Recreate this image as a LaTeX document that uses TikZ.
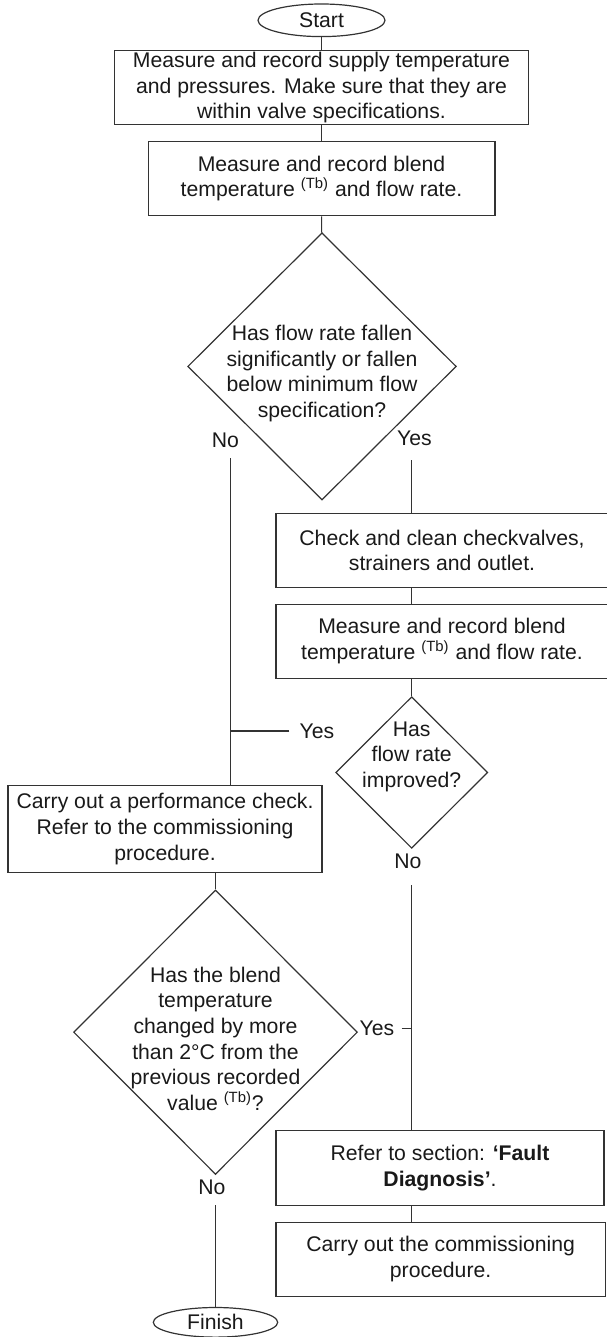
\documentclass[tikz,border=0pt]{standalone}
\usepackage{fontspec}
\setmainfont{Liberation Sans}
\usetikzlibrary{shapes.geometric}

\begin{document}
\begin{tikzpicture}[x=0.5pt,y=-0.5pt,
    every node/.style={font=\fontsize{10.6pt}{12.8pt}\selectfont,text=black!90},
    procbox/.style={draw=black!80,line width=0.6pt,rectangle,align=center,inner sep=0pt,minimum height=37.2pt},
    decision/.style={draw=black!80,line width=0.6pt,diamond,inner sep=0pt},
    qtext/.style={align=center,inner sep=0pt},
    terminal/.style={draw=black!80,line width=0.6pt,ellipse,inner sep=0pt,minimum width=63.5pt,minimum height=16.3pt},
    answer/.style={inner sep=0pt},
    flowline/.style={draw=black!80,line width=0.6pt}]
    \useasboundingbox (0,0) rectangle (606,1337);

    %%% Main column %%%
    \node[terminal] (start) at (321.5,20.3) {Start};
    \node[procbox,minimum width=207pt,minimum height=37pt] (supply) at (321.5,87.7)
        {Measure and record supply temperature\\ and pressures. Make sure that they are\\ within valve specifications.};
    \node[procbox,minimum width=173.4pt] (blend) at (321.5,178.5)
        {Measure and record blend\\ temperature \textsuperscript{(Tb)} and flow rate.};
    \node[decision,minimum width=134.3pt,minimum height=133.6pt] (flowq) at (322,366.4) {};
    \node[qtext] (flowqtext) at ([yshift=-3.5pt]flowq.center)
        {Has flow rate fallen\\ significantly or fallen\\ below minimum flow\\ specification?};

    %%% Yes branch %%%
    \node[procbox,minimum width=166pt] (clean) at (442,550.5)
        {Check and clean checkvalves,\\ strainers and outlet.};
    \node[procbox,minimum width=166pt] (blendb) at (442,641.3)
        {Measure and record blend\\ temperature \textsuperscript{(Tb)} and flow rate.};
    \node[decision,minimum width=76pt,minimum height=75.8pt] (impq) at (411.7,772.5) {};
    \node[qtext] (impqtext) at ([yshift=8pt]impq.center) {Has\\ flow rate\\ improved?};
    \node[procbox,minimum width=164pt,minimum height=37.5pt] (fault) at (440,1168.2)
        {Refer to section: \textbf{‘Fault}\\ \textbf{Diagnosis’}.};
    \node[procbox,minimum width=164.6pt,minimum height=36.9pt] (comm) at (440.6,1259.2)
        {Carry out the commissioning\\ procedure.};

    %%% No branch %%%
    \node[procbox,minimum width=157pt,minimum height=43.3pt] (perf) at (165,829)
        {Carry out a performance check.\\ Refer to the commissioning\\ procedure.};
    \node[decision,minimum width=141.9pt,minimum height=142.2pt] (tempq) at (215.5,1032.2) {};
    \node[qtext] (tempqtext) at ([yshift=-3.3pt]tempq.center)
        {Has the blend\\ temperature\\ changed by more\\ than 2°C from the\\ previous recorded\\ value \textsuperscript{(Tb)}?};
    \node[terminal,minimum width=62.2pt,minimum height=14.8pt] (finish) at (215.5,1322.3) {Finish};

    %%% Answers %%%
    \node[answer] (no1) at (225.4,440) {No};
    \node[answer] (yes1) at (414.4,438.3) {Yes};
    \node[answer] (yes2) at (317,731) {Yes};
    \node[answer] (no2) at (407.8,861.7) {No};
    \node[answer] (yes3) at (376.9,1028.3) {Yes};
    \node[answer] (no3) at (211.8,1187.7) {No};

    %%% Connectors %%%
    \coordinate (nol) at (230.4,458.3);  % below No
    \coordinate (yesr) at (411.7,460);   % below Yes
    \coordinate (no2l) at (411.7,885);   % below No
    \coordinate (no3l) at (215.5,1205);  % below No
    \draw[flowline] (start) -- (supply);
    \draw[flowline] (supply) -- (blend);
    \draw[flowline] (blend) -- (flowq);
    \draw[flowline] (nol) -- (nol |- perf.north);
    \draw[flowline] ([xshift=-5pt]yes2.west) -- (yes2.west -| nol);
    \draw[flowline] (yesr) -- (yesr |- clean.north);
    \draw[flowline] (clean.south -| impq) -- (blendb.north -| impq);
    \draw[flowline] (blendb.south -| impq) -- (impq.north);
    \draw[flowline] (no2l) -- (no2l |- fault.north);
    \draw[flowline] ([xshift=3.5pt]yes3.east) -- (yes3.east -| no2l);
    \draw[flowline] (fault.south -| impq) -- (comm.north -| impq);
    \draw[flowline] (perf.south -| tempq) -- (tempq.north);
    \draw[flowline] (no3l) -- (finish.north);
\end{tikzpicture}
\end{document}
